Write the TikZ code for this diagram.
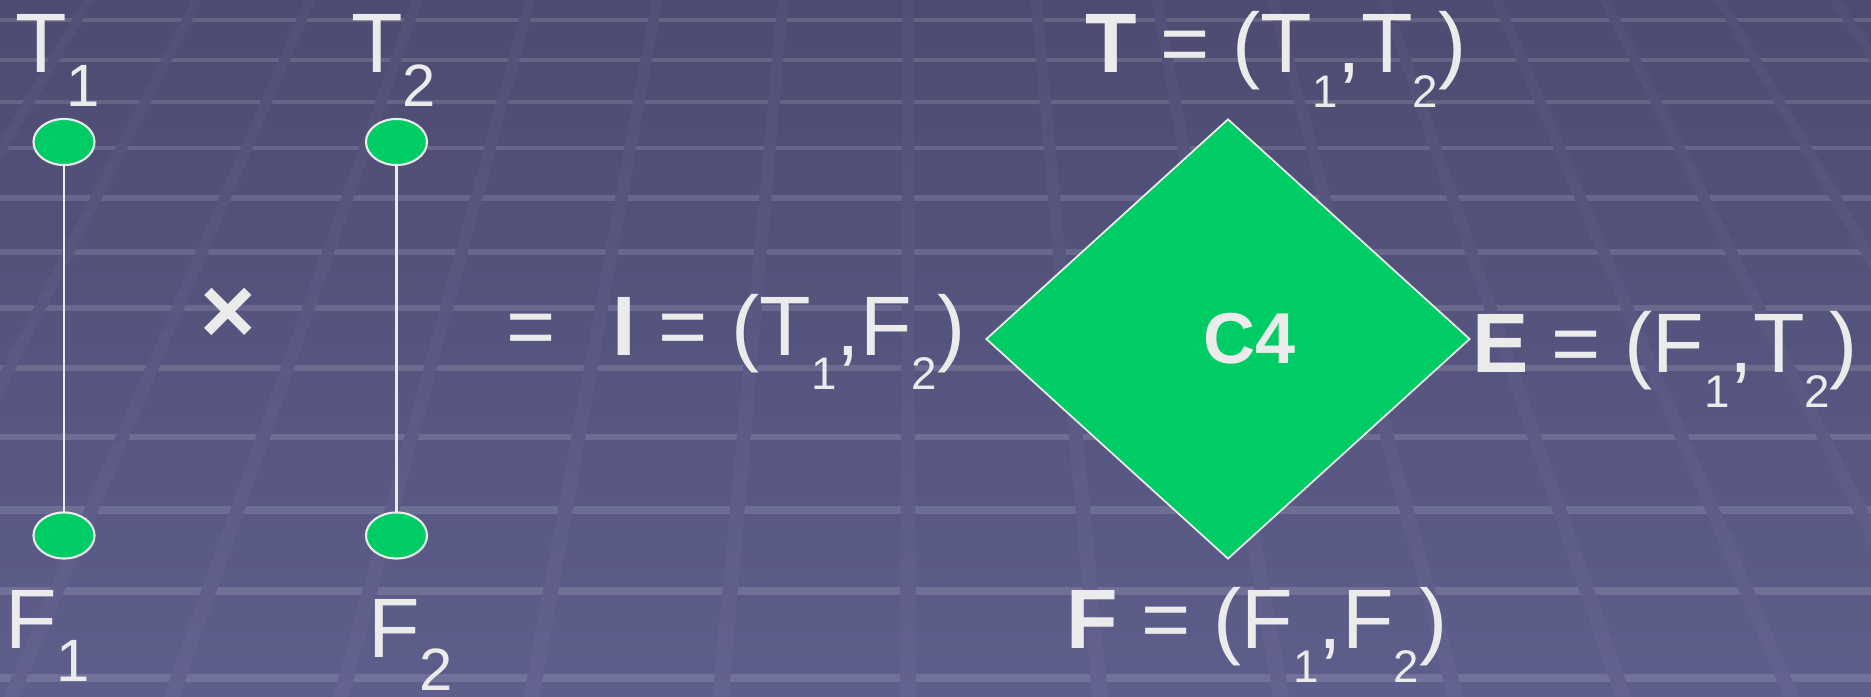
\documentclass[tikz,border=0pt]{standalone}
\usepackage{fontspec}
\setmainfont{Liberation Sans}
\usetikzlibrary{shapes.geometric}
\definecolor{bgtop}{RGB}{77,75,113}
\definecolor{bgbot}{RGB}{94,94,140}
\definecolor{bandtop}{RGB}{82,80,118}
\definecolor{bandbot}{RGB}{99,98,144}
\definecolor{vgreen}{RGB}{0,204,102}
\definecolor{txt}{RGB}{235,235,235}
\newcommand\bigsub[1]{\raisebox{-9.4pt}{\fontsize{17}{17}\selectfont #1}}
\newcommand\smsub[1]{\raisebox{-9.7pt}{\fontsize{13}{13}\selectfont #1}}
\newcommand\mainfs{\fontsize{24}{28}\selectfont}
\tikzset{
  dot/.style={ellipse, minimum width=0.61cm, minimum height=0.46cm, fill=vgreen, draw=txt, line width=0.6pt},
  edge/.style={draw=txt, line width=0.6pt},
  lbl/.style={anchor=base west, font=\mainfs},
  stripe/.style={draw=white, draw opacity=0.13},
}
\begin{document}
\begin{tikzpicture}[x=0.01cm, y=-0.01cm, every node/.style={inner sep=0pt, outer sep=0pt, text=txt}]
\useasboundingbox (0,0) rectangle (1871,697);
\begin{scope}
\clip (0,0) rectangle (1871,697);
\fill[top color=bgtop, bottom color=bgbot] (0,0) rectangle (1871,697);
\foreach \yy/\ww in {20/1.1, 60/1.2, 102/1.3, 148/1.4, 198/1.5, 252/1.6, 308/1.7, 368/1.8, 437/1.9, 510/2.0, 591/2.2, 678/2.4}
  \draw[stripe, line width=\ww pt] (0,\yy) -- (1871,\yy);
\foreach \xx in {89, 197, 310, 417, 530, 657, 783, 908, 1036, 1157, 1273, 1385, 1497, 1605, 1720, 1835}
  \shade[top color=bandtop, bottom color=bandbot]
    ({\xx-5.5},0) -- ({\xx+5.5},0) -- ({908+(\xx-908)*1.5+8},697) -- ({908+(\xx-908)*1.5-8},697) -- cycle;
\end{scope}

% left factor graphs
\node[dot] (t1) at (64,142) {};
\node[dot] (f1) at (64,535.5) {};
\node[dot] (t2) at (396.5,142) {};
\node[dot] (f2) at (396.5,535.5) {};
\draw[edge] (t1) -- (f1);
\draw[edge] (t2) -- (f2);

\node[lbl] (lt1) at (15,73) {T\bigsub{1}};
\node[lbl] (lt2) at (351,73) {T\bigsub{2}};
\node[lbl] (lf1) at (5,648) {F\bigsub{1}};
\node[lbl] (lf2) at (368,657) {F\bigsub{2}};

\node[font=\bfseries\fontsize{27}{30}\selectfont] (times) at (228,316) {×};
\node[lbl] (eq) at (506,355) {=};
\node[lbl] (li) at (612,355) {\textbf{I} = (T\smsub{1},F\smsub{2})};

% diamond C4
\node[diamond, minimum width=4.83cm, minimum height=4.39cm, fill=vgreen, draw=txt, line width=0.5pt] (c4) at (1228,339) {};
\node[font=\bfseries\fontsize{20.5}{24}\selectfont] (c4t) at (1250,338.5) {C4};

\node[lbl] (lt) at (1085,73) {\textbf{T} = (T\smsub{1},T\smsub{2})};
\node[lbl] (le) at (1472,373) {\textbf{E} = (F\smsub{1},T\smsub{2})};
\node[lbl] (lf) at (1066,648) {\textbf{F} = (F\smsub{1},F\smsub{2})};
\end{tikzpicture}
\end{document}
